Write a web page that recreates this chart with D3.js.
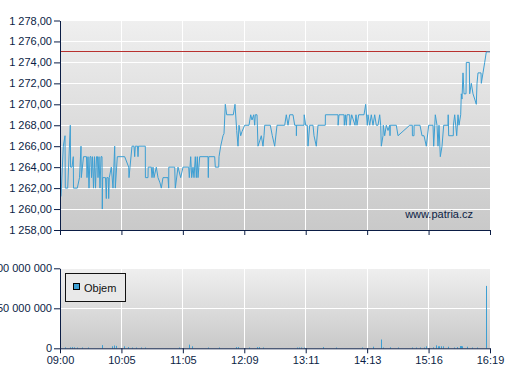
<!DOCTYPE html>
<html><head><meta charset="utf-8">
<script src="https://cdn.jsdelivr.net/npm/d3@7/dist/d3.min.js"></script>
<style>
body{margin:0;background:#fff}
svg{display:block}
text{font-family:"Liberation Sans",Arial,sans-serif}
</style>
</head><body>
<svg id="c" width="507" height="380"></svg>
<script>
// ---- data ----
const timeLabels = ["09:00","10:05","11:05","12:09","13:11","14:13","15:16","16:19"];
const sessionLength = 430; // session position index (0 .. 430)
const priceTicks = [1258,1260,1262,1264,1266,1268,1270,1272,1274,1276,1278];
const volumeTicks = [0, 50000000, 100000000];
const referencePrice = 1275;
const watermark = "www.patria.cz";
const legendLabel = "Objem";

// [session position, price]
const priceSeries = [
[1,1261.2],[3.3,1266],[5,1267],[5.3,1262],[7.7,1262],[10.3,1268],[10.6,1264],[12,1264],[13.3,1265],[13.5,1262],
[17.3,1262],[19.5,1263],[21,1266],[21.3,1263],[23.5,1265],[26.5,1265],[27,1263],[28,1265],[29,1262],[30,1265],
[31,1265],[31.5,1263],[32.5,1265],[33.5,1262],[34.5,1265],[35.5,1262],[36.5,1265],[37.5,1265],[38,1263],[39,1265],
[40,1262],[41,1265],[42,1265],[42.3,1260],[42.7,1263],[45.5,1263],[46.3,1261],[46.8,1263],[48.2,1263],[48.7,1261],
[49.3,1263],[51.3,1264],[53,1262],[54.7,1266],[55.3,1262],[57.3,1265],[64.7,1265],[68.7,1264],[69,1263],[70,1264],
[72,1266],[74,1266],[74.7,1265],[75.3,1266],[77.5,1266],[78,1265],[78.5,1266],[85.3,1266],[85.4,1263],[88,1263],
[88.2,1264],[91.3,1264],[92,1263],[93,1264],[94,1263],[96.3,1264],[98,1263],[100,1262.5],[101.3,1262],[103,1263],
[108,1263],[108.7,1262],[108.8,1264],[114.7,1264],[115.3,1262],[118,1264],[120.7,1263],[123,1264],[128.7,1264],[129.3,1263],
[130.7,1265],[131.7,1263],[133,1264],[134,1263],[135.3,1265],[136.3,1263],[137.3,1265],[138,1263],[139.7,1265],[148,1265],
[148.3,1263],[148.7,1265],[154.7,1265],[155.3,1264],[158.7,1264],[159,1265],[160.7,1266],[163,1267],[164,1267.2],[165.3,1270],
[166.7,1269],[173.3,1269],[175,1270],[176.7,1267.5],[178,1266],[179,1268],[180.7,1267],[182,1267.4],[184.7,1268],[189,1268],
[190.7,1269],[192,1268.5],[193.7,1269],[194.7,1268],[195.3,1269],[197,1269],[198,1266],[199.7,1266.5],[201.3,1267],[203,1266],
[204,1267],[204.7,1268],[210.3,1268],[212.3,1267],[214.7,1266],[217,1268],[224.7,1268],[226.3,1269],[228,1268],[229.7,1269],
[233,1269],[234.7,1268],[236.3,1268],[236.4,1267],[236.6,1268],[244,1268],[244.2,1269],[245.7,1268],[247.3,1268],[248,1266],
[249.7,1268],[253,1268],[254,1267],[256.3,1266],[258,1268],[265.3,1268],[265.4,1269],[278,1269],[278.1,1268],[279,1269],
[284,1269],[284.3,1268],[285.3,1269],[286.3,1268],[287,1269],[289.7,1269],[290,1268],[291.7,1269],[295,1268],[296,1269],
[297,1268],[298.7,1269],[304,1269],[305.7,1270],[307.3,1268],[308,1269],[309.7,1268],[311.3,1269],[313,1268],[314.7,1269],
[316.3,1268],[318,1268],[319.7,1269],[320.7,1268],[321.3,1266],[323,1267],[323.3,1268],[324.7,1267],[326.3,1268],[328,1267.5],
[329.7,1268],[330,1267],[330.3,1268],[336.3,1268],[338,1267],[349.7,1268],[352.3,1268],[352.4,1267],[354,1267],[354.1,1268],
[360,1268],[362,1267],[364,1267],[366.3,1266],[368.7,1268],[373,1268],[373.7,1266],[375.3,1269],[377,1268],[378,1266],
[379,1268],[380.3,1265],[382,1266],[383.7,1268],[388,1268],[388.2,1269],[388.7,1267],[393.3,1267],[393.4,1268],[394.7,1269],
[395.7,1268],[396.7,1267],[398,1269],[399,1268],[400.7,1269],[401.3,1271],[402,1270.5],[403,1273],[404,1271],[406,1271],
[406.3,1274],[409.3,1274],[409.7,1271],[411.3,1272],[413,1271],[414.7,1270.5],[416.3,1270],[417,1272],[418,1273],[421,1273],
[421.3,1272],[423,1273],[424.7,1274],[426.3,1275],[430,1275]
];

// [session position, traded volume]
const volumeSeries = [
[5,1200000],[10,1200000],[11.7,1500000],[14,1200000],[16.7,1000000],[21.7,1000000],[28.3,1000000],[42,4000000],
[51.7,2500000],[54.3,3500000],[55.7,3000000],[64.3,2500000],[68.3,1500000],[72.3,1000000],[76,1000000],[81,1000000],
[85,1000000],[119,1000000],[129.3,4600000],[132.3,2500000],[148.3,1000000],[159.3,1000000],[176,1500000],[177.7,1500000],
[189.3,1000000],[197.3,1500000],[199,1500000],[203.3,1000000],[237,1000000],[239,1000000],[241,1000000],[244,1000000],
[263.3,1500000],[275.7,1000000],[301.7,1000000],[313.3,2000000],[321,11000000],[323.3,1000000],[330,1200000],[338.3,1000000],
[352,1000000],[356,1000000],[360,1000000],[364.3,1000000],[366,2500000],[373.3,1200000],[376,3700000],[377.7,2500000],
[379.3,2500000],[381,2500000],[382.7,2500000],[388.3,2000000],[394,1000000],[396.7,1500000],[400,2800000],[401,2800000],
[402,2500000],[407.3,2000000],[411.7,1000000],[416.5,1000000],[426.3,78000000]
];

// ---- layout ----
const svg = d3.select("#c");
const navy = "#0b1d45";
const blue = "#3d9fd3";
const left = 60, right = 490;
const topP = {top: 20.5, bottom: 230};
const volP = {top: 268.3, bottom: 348.3};

const x = d3.scaleLinear().domain([0, sessionLength]).range([left, right]);
const yP = d3.scaleLinear().domain([d3.min(priceTicks), d3.max(priceTicks)]).range([topP.bottom, topP.top]);
const yV = d3.scaleLinear().domain([0, d3.max(volumeTicks)]).range([volP.bottom, volP.top]);
const xTicks = timeLabels.map((d,i) => i * sessionLength / (timeLabels.length - 1));

const loc = d3.formatLocale({decimal: ",", thousands: " ", grouping: [3], currency: ["", ""]});
const fPrice = loc.format(",.2f");
const fVol = loc.format(",d");

const defs = svg.append("defs");
const grad = defs.append("linearGradient").attr("id","bg").attr("x1",0).attr("y1",0).attr("x2",0).attr("y2",1);
grad.append("stop").attr("offset","0%").attr("stop-color","#efefef");
grad.append("stop").attr("offset","100%").attr("stop-color","#c9c9c9");

function panel(y, p) {
  const g = svg.append("g");
  g.append("rect").attr("x", left).attr("y", p.top).attr("width", right - left)
    .attr("height", p.bottom - p.top).attr("fill", "url(#bg)");
  return g;
}

// ---- price panel ----
const gp = panel(yP, topP);
gp.selectAll("line.h").data(priceTicks.slice(1)).join("line")
  .attr("x1", left).attr("x2", right).attr("y1", d => yP(d)).attr("y2", d => yP(d))
  .attr("stroke", "#fff").attr("shape-rendering", "crispEdges");
gp.selectAll("line.v").data(xTicks.slice(1, -1)).join("line")
  .attr("x1", d => x(d)).attr("x2", d => x(d)).attr("y1", topP.top).attr("y2", topP.bottom)
  .attr("stroke", "#fff").attr("shape-rendering", "crispEdges");

gp.append("line").attr("x1", left).attr("x2", right)
  .attr("y1", yP(referencePrice)).attr("y2", yP(referencePrice))
  .attr("stroke", "#b8312f").attr("stroke-width", 1).attr("shape-rendering", "crispEdges");

gp.append("path").datum(priceSeries)
  .attr("d", d3.line().x(d => x(d[0])).y(d => yP(d[1])))
  .attr("fill", "none").attr("stroke", blue).attr("stroke-width", 1);

gp.append("text").attr("x", 473).attr("y", 217.5).attr("text-anchor", "end")
  .attr("font-size", 11).attr("fill", navy).text(watermark);

const axP = svg.append("g").attr("transform", `translate(${left},0)`)
  .call(d3.axisLeft(yP).tickValues(priceTicks).tickFormat(fPrice).tickSize(6).tickSizeOuter(0).tickPadding(2));
const axPx = svg.append("g").attr("transform", `translate(0,${topP.bottom})`)
  .call(d3.axisBottom(x).tickValues(xTicks).tickFormat("").tickSize(5).tickSizeOuter(0));

// ---- volume panel ----
const gv = panel(yV, volP);
gv.selectAll("line.h").data(volumeTicks.slice(1)).join("line")
  .attr("x1", left).attr("x2", right).attr("y1", d => yV(d)).attr("y2", d => yV(d))
  .attr("stroke", "#fff").attr("shape-rendering", "crispEdges");
gv.selectAll("line.v").data(xTicks.slice(1, -1)).join("line")
  .attr("x1", d => x(d)).attr("x2", d => x(d)).attr("y1", volP.top).attr("y2", volP.bottom)
  .attr("stroke", "#fff").attr("shape-rendering", "crispEdges");
gv.selectAll("rect.bar").data(volumeSeries).join("rect")
  .attr("x", d => Math.round(x(d[0]))).attr("width", 1)
  .attr("y", d => yV(d[1])).attr("height", d => yV(0) - yV(d[1]))
  .attr("fill", blue);

const lg = gv.append("g");
lg.append("rect").attr("x", 65.5).attr("y", 273.5).attr("width", 60).attr("height", 28)
  .attr("fill", "#e9e9e9").attr("stroke", "#111");
lg.append("rect").attr("x", 73.5).attr("y", 283.5).attr("width", 6).attr("height", 6)
  .attr("fill", blue).attr("stroke", "#000");
lg.append("text").attr("x", 84).attr("y", 291.5).attr("font-size", 11).attr("fill", "#111").text(legendLabel);

svg.append("g").attr("transform", `translate(${left},0)`)
  .call(d3.axisLeft(yV).tickValues(volumeTicks).tickFormat(fVol).tickSize(6).tickSizeOuter(0).tickPadding(2));
svg.append("g").attr("transform", `translate(0,${volP.bottom})`)
  .call(d3.axisBottom(x).tickValues(xTicks).tickFormat((d,i) => timeLabels[i]).tickSize(5).tickSizeOuter(0).tickPadding(3));

svg.selectAll(".tick text").attr("font-size", 11).attr("fill", navy).attr("font-family", '"Liberation Sans",Arial,sans-serif');
svg.selectAll(".domain, .tick line").attr("stroke", navy);
</script>
</body></html>
